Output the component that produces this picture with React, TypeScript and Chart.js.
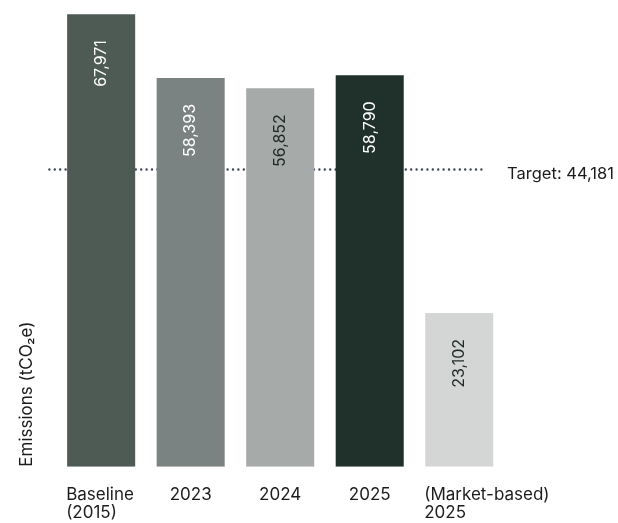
import React, { useEffect, useRef } from "react";
import { Chart, registerables } from "chart.js";

Chart.register(...registerables);

const categories: string[][] = [["Baseline", "(2015)"], ["2023"], ["2024"], ["2025"], ["(Market-based)", "2025"]];
const emissions = [67971, 58393, 56852, 58790, 23102];
const valueLabels = ["67,971", "58,393", "56,852", "58,790", "23,102"];
const target = 44181;
const targetLabel = "Target: 44,181";
const barColors = ["#4e5a54", "#7a8381", "#a6aaa9", "#20302b", "#d4d6d5"];
const valueLabelColors = ["#ffffff", "#ffffff", "#1e2926", "#ffffff", "#1e2926"];
const yTitle = "Emissions (tCO₂e)";

const FONT = "Inter, 'Noto Sans', sans-serif";

const targetPlugin = {
  id: "targetLine",
  beforeDatasetsDraw(chart: any) {
    const { ctx, chartArea, scales } = chart;
    const y = scales.y.getPixelForValue(target);
    ctx.save();
    ctx.strokeStyle = "#3d4455";
    ctx.lineWidth = 2.4;
    ctx.lineCap = "round";
    ctx.setLineDash([0, 5.4]);
    ctx.beginPath();
    ctx.moveTo(chartArea.left - 7, y - 3);
    ctx.lineTo(chartArea.right - 18, y - 3);
    ctx.stroke();
    ctx.restore();
  },
  afterDraw(chart: any) {
    const { ctx, chartArea, scales } = chart;
    const y = scales.y.getPixelForValue(target);
    ctx.save();
    ctx.fillStyle = "#1c1c1c";
    ctx.font = `16.5px ${FONT}`;
    ctx.textAlign = "right";
    ctx.textBaseline = "alphabetic";
    ctx.fillText(targetLabel, chartArea.right + 110, y + 6);
    ctx.restore();
  },
};

const valuePlugin = {
  id: "valueLabels",
  afterDatasetsDraw(chart: any) {
    const { ctx } = chart;
    const meta = chart.getDatasetMeta(0);
    ctx.save();
    ctx.font = `16px ${FONT}`;
    meta.data.forEach((bar: any, i: number) => {
      ctx.save();
      ctx.translate(bar.x, bar.y + 26);
      ctx.rotate(-Math.PI / 2);
      ctx.textAlign = "right";
      ctx.textBaseline = "middle";
      ctx.fillStyle = valueLabelColors[i];
      ctx.fillText(valueLabels[i], 0, 0);
      ctx.restore();
    });
    ctx.restore();
  },
};

const categoryPlugin = {
  id: "categoryLabels",
  afterDraw(chart: any) {
    const { ctx, chartArea } = chart;
    const meta = chart.getDatasetMeta(0);
    ctx.save();
    ctx.font = `17px ${FONT}`;
    ctx.fillStyle = "#1c1c1c";
    ctx.textBaseline = "alphabetic";
    meta.data.forEach((bar: any, i: number) => {
      const lines = categories[i];
      const multi = lines.length > 1;
      ctx.textAlign = multi ? "left" : "center";
      const x = multi ? bar.x - bar.width / 2 - 1 : bar.x;
      lines.forEach((line, j) => {
        ctx.fillText(line, x, chartArea.bottom + 33 + j * 18.5);
      });
    });
    ctx.restore();
  },
};

export default function App() {
  const canvasRef = useRef<HTMLCanvasElement | null>(null);

  useEffect(() => {
    document.body.style.margin = "0";
    const canvas = canvasRef.current;
    if (!canvas) return;
    const chart = new Chart(canvas, {
      type: "bar",
      data: {
        labels: categories.map((c) => c.join(" ")),
        datasets: [
          {
            data: emissions,
            backgroundColor: barColors,
            borderWidth: 0,
            barPercentage: 0.76,
            categoryPercentage: 1,
          },
        ],
      },
      options: {
        responsive: false,
        animation: false,
        layout: { padding: { left: 13, right: 114, top: 14, bottom: 56.3 } },
        plugins: {
          legend: { display: false },
          tooltip: { enabled: false },
        },
        scales: {
          x: {
            grid: { display: false, drawTicks: false },
            border: { display: false },
            ticks: { display: false },
          },
          y: {
            min: 0,
            max: 68000,
            grid: { display: false, drawTicks: false },
            border: { display: false },
            ticks: { display: false },
            title: {
              display: true,
              text: yTitle,
              align: "start",
              color: "#1c1c1c",
              font: { family: FONT, size: 17 },
              padding: { top: 4, bottom: 19 },
            },
          },
        },
      },
      plugins: [targetPlugin, valuePlugin, categoryPlugin],
    });
    return () => chart.destroy();
  }, []);

  return (
    <div style={{ width: 618, height: 523, background: "#ffffff" }}>
      <canvas ref={canvasRef} width={618} height={523} />
    </div>
  );
}
